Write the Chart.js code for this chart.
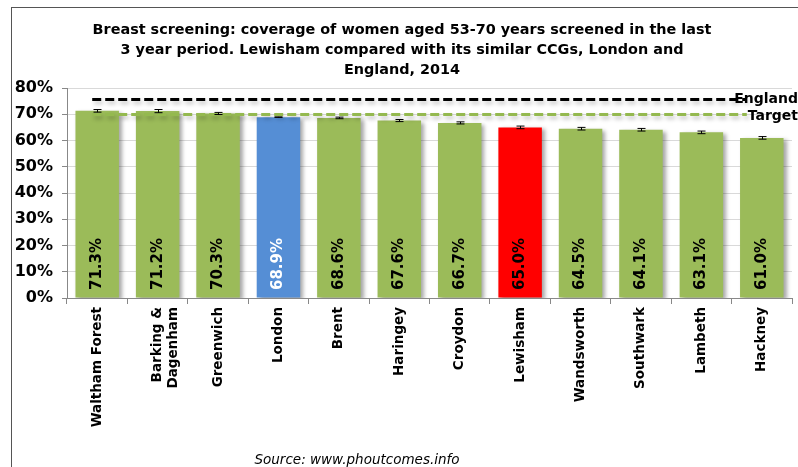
<!DOCTYPE html>
<html>
<head>
<meta charset="utf-8">
<script src="https://cdn.jsdelivr.net/npm/chart.js@4.4.1/dist/chart.umd.min.js"></script>
<style>
  html, body { margin:0; padding:0; background:#fff; }
  #frame { position:absolute; left:11px; top:7px; width:787px; height:460px;
           border-left:1px solid #555; border-top:1px solid #555; }
  #wrap { position:absolute; left:0; top:1px; width:787px; height:459px; }
</style>
</head>
<body>
<div id="frame"><div id="wrap"><canvas id="c"></canvas></div></div>
<script>
const areas = ['Waltham Forest', ['Barking &', 'Dagenham'], 'Greenwich', 'London', 'Brent', 'Haringey',
               'Croydon', 'Lewisham', 'Wandsworth', 'Southwark', 'Lambeth', 'Hackney'];
const coverage = [71.3, 71.2, 70.3, 68.9, 68.6, 67.6, 66.7, 65.0, 64.5, 64.1, 63.1, 61.0];
const ciLow  = [70.8, 70.6, 69.9, 68.8, 68.3, 67.2, 66.3, 64.5, 64.0, 63.6, 62.6, 60.5];
const ciHigh = [71.8, 71.8, 70.7, 69.0, 68.9, 68.0, 67.1, 65.5, 65.0, 64.6, 63.6, 61.5];
const ENGLAND = 75.9;
const TARGET = 70;
const yTicks = [0, 10, 20, 30, 40, 50, 60, 70, 80];

const GREEN = '#9bbb59', BLUE = '#558ed5', RED = '#ff0000';
const barColours = areas.map(a => a === 'London' ? BLUE : a === 'Lewisham' ? RED : GREEN);

const FONT = "'DejaVu Sans', Verdana, sans-serif";

// England / target reference lines, over the bars
const refLines = {
  id: 'refLines',
  afterDatasetsDraw(chart) {
    const x = chart.scales.x, y = chart.scales.y, ctx = chart.ctx;
    const x0 = x.getPixelForValue(0) - 5, x1 = x.getPixelForValue(areas.length - 1) - 15;
    ctx.save();
    ctx.lineWidth = 3; ctx.setLineDash([9, 4]);
    ctx.shadowColor = 'rgba(0,0,0,0.25)'; ctx.shadowBlur = 4; ctx.shadowOffsetY = 3; ctx.shadowOffsetX = 2;
    [[ENGLAND, '#000'], [TARGET, '#94b94f']].forEach(([v, col]) => {
      const py = Math.round(y.getPixelForValue(v)) + 0.5;
      ctx.strokeStyle = col;
      ctx.beginPath(); ctx.moveTo(x0, py); ctx.lineTo(x1, py); ctx.stroke();
    });
    ctx.restore();
  }
};

// error bars, drawn on top of the bars
const errorBars = {
  id: 'errorBars',
  afterDatasetsDraw(chart) {
    const meta = chart.getDatasetMeta(0), y = chart.scales.y, ctx = chart.ctx;
    ctx.save();
    ctx.strokeStyle = '#000'; ctx.lineWidth = 1;
    meta.data.forEach((bar, i) => {
      const yl = y.getPixelForValue(ciLow[i]), yh = y.getPixelForValue(ciHigh[i]);
      const bx = Math.round(bar.x) + 0.5;
      ctx.beginPath();
      ctx.moveTo(bx, yl); ctx.lineTo(bx, yh);
      ctx.moveTo(bx - 4, yl); ctx.lineTo(bx + 4, yl);
      ctx.moveTo(bx - 4, yh); ctx.lineTo(bx + 4, yh);
      ctx.stroke();
    });
    ctx.restore();
  }
};

// rotated value labels at the foot of each bar, line labels and source note
const labels = {
  id: 'labels',
  afterDraw(chart) {
    const meta = chart.getDatasetMeta(0), y = chart.scales.y, ctx = chart.ctx;
    ctx.save();
    ctx.font = `bold 15px ${FONT}`;
    meta.data.forEach((bar, i) => {
      ctx.save();
      ctx.translate(bar.x, y.getPixelForValue(0) - 8);
      ctx.rotate(-Math.PI / 2);
      ctx.fillStyle = areas[i] === 'London' ? '#fff' : '#000';
      ctx.textAlign = 'left'; ctx.textBaseline = 'middle';
      ctx.fillText(coverage[i].toFixed(1) + '%', 0, 0);
      ctx.restore();
    });
    ctx.fillStyle = '#000';
    ctx.font = `bold 14px ${FONT}`;
    ctx.textAlign = 'right'; ctx.textBaseline = 'middle';
    ctx.fillText('England', chart.width - 1, y.getPixelForValue(ENGLAND) + 1);
    ctx.fillText('Target', chart.width - 1, y.getPixelForValue(TARGET) + 2);
    ctx.font = `italic 13.5px ${FONT}`;
    ctx.textAlign = 'center';
    ctx.fillText('Source: www.phoutcomes.info', 345, chart.height - 8);
    ctx.restore();
  }
};

const shadow = {
  id: 'shadow',
  beforeDatasetDraw(chart) {
    const ctx = chart.ctx;
    ctx.save();
    ctx.shadowColor = 'rgba(0,0,0,0.35)';
    ctx.shadowBlur = 4; ctx.shadowOffsetX = 3; ctx.shadowOffsetY = 2;
  },
  afterDatasetDraw(chart) { chart.ctx.restore(); }
};

new Chart(document.getElementById('c'), {
  type: 'bar',
  data: {
    labels: areas,
    datasets: [
      { label: 'Coverage', data: coverage, backgroundColor: barColours,
        categoryPercentage: 0.72, barPercentage: 1 }
    ]
  },
  options: {
    animation: false, responsive: true, maintainAspectRatio: false,
    layout: { padding: { left: 0, right: 7, top: 0, bottom: 0 } },
    plugins: {
      legend: { display: false },
      tooltip: { enabled: false },
      title: {
        display: true,
        text: ['Breast screening: coverage of women aged 53-70 years screened in the last',
               '3 year period. Lewisham compared with its similar CCGs, London and',
               'England, 2014'],
        font: { family: FONT, size: 14.4, weight: 'bold', lineHeight: 20 / 14.4 },
        color: '#000', padding: { top: 11, bottom: 8 }
      }
    },
    scales: {
      x: {
        offset: true,
        afterFit: (s) => { s.height = 170; },
        grid: { display: true, drawOnChartArea: false, offset: true, tickLength: 6, color: '#888' },
        border: { color: '#888' },
        ticks: { font: { family: FONT, size: 13.5, weight: 'bold' }, color: '#000',
                 minRotation: 90, maxRotation: 90, autoSkip: false, padding: 3 }
      },
      y: {
        min: 0, max: 80,
        afterFit: (s) => { s.width = 55; },
        afterBuildTicks: (s) => { s.ticks = yTicks.map(v => ({ value: v })); },
        grid: { color: '#d9d9d9', tickLength: 5, tickColor: '#888' },
        border: { color: '#888' },
        ticks: { font: { family: FONT, size: 16, weight: 'bold' }, color: '#000',
                 padding: 9, callback: (v) => v + '%' }
      }
    }
  },
  plugins: [shadow, refLines, errorBars, labels]
});
</script>
</body>
</html>
